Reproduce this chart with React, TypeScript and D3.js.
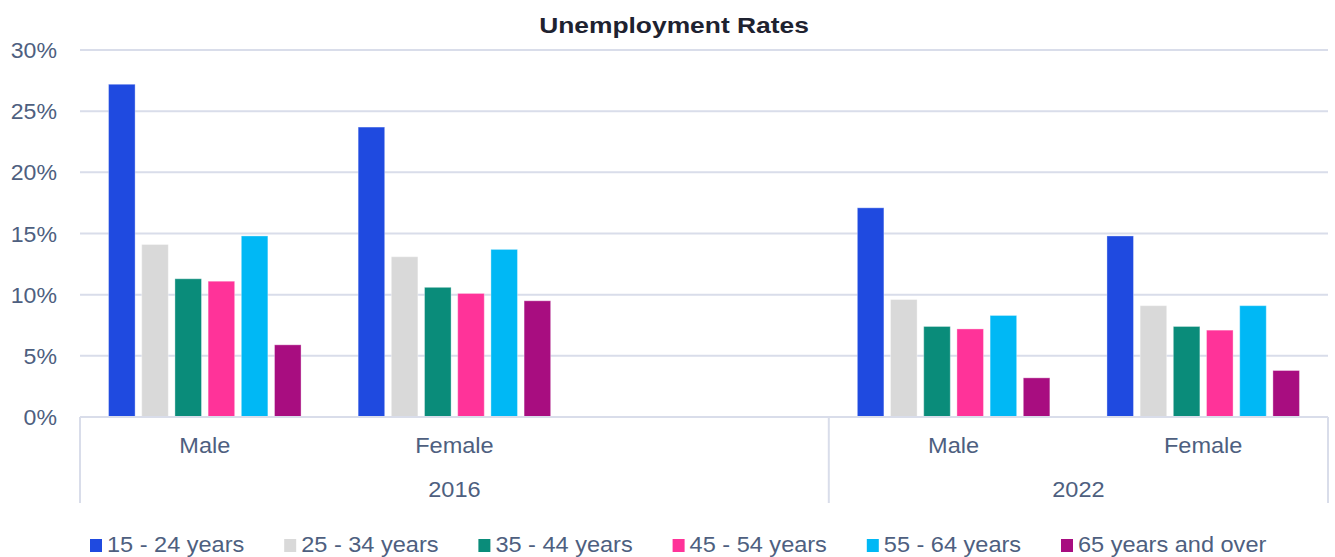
import React from "react";
import * as d3 from "d3";

const years = ["2016", "2022"];
const genders = ["Male", "Female"];
// category slots (2016 has an empty third slot)
const slots = [
  { year: "2016", gender: "Male" },
  { year: "2016", gender: "Female" },
  { year: "2016", gender: "" },
  { year: "2022", gender: "Male" },
  { year: "2022", gender: "Female" },
];
const seriesNames = [
  "15 - 24 years",
  "25 - 34 years",
  "35 - 44 years",
  "45 - 54 years",
  "55 - 64 years",
  "65 years and over",
];
const seriesColors = ["#1F4AE0", "#D9D9D9", "#0A8C7A", "#FF3399", "#00B8F5", "#A80D80"];
// values per slot, in series order (percent)
const male2016 = [27.2, 14.1, 11.3, 11.1, 14.8, 5.9];
const female2016 = [23.7, 13.1, 10.6, 10.1, 13.7, 9.5];
const empty2016: number[] = [];
const male2022 = [17.1, 9.6, 7.4, 7.2, 8.3, 3.2];
const female2022 = [14.8, 9.1, 7.4, 7.1, 9.1, 3.8];
const slotValues = [male2016, female2016, empty2016, male2022, female2022];
const yTicks = [0, 5, 10, 15, 20, 25, 30];

const W = 1335;
const H = 557;
const left = 80;
const right = 1328;
const top = 50;
const bottom = 417;
const textColor = "#4E5F80";
const gridColor = "#D9DDEA";
const FONT = "'Liberation Sans', Arial, sans-serif";

function T({ x, y, anchor = "middle", size = 22, sx = 1.07, weight = "normal", fill = textColor, children }: any) {
  return (
    <text
      transform={`translate(${x},${y}) scale(${sx},1)`}
      textAnchor={anchor}
      fontSize={size}
      fontWeight={weight}
      fill={fill}
      fontFamily={FONT}
    >
      {children}
    </text>
  );
}

export default function App() {
  const x0 = d3
    .scaleBand<number>()
    .domain(slots.map((_, i) => i))
    .range([left, right])
    .padding(0);
  const x1 = d3
    .scaleBand<string>()
    .domain(seriesNames)
    .range([0, x0.bandwidth()])
    .paddingInner(0.2)
    .paddingOuter(0.86);
  const y = d3.scaleLinear().domain([0, 30]).range([bottom, top]);

  // year groups spans
  const yearSpans = years.map((yr) => {
    const idx = slots.map((s, i) => (s.year === yr ? i : -1)).filter((i) => i >= 0);
    const x0s = x0(idx[0])!;
    const x1s = x0(idx[idx.length - 1])! + x0.bandwidth();
    return { yr, a: x0s, b: x1s };
  });
  const boundaries = [left, ...yearSpans.map((s) => s.b)];

  const legendStart = 90;
  const legendStep = 194.2;

  return (
    <svg
      width={W}
      height={H}
      style={{ position: "absolute", left: 0, top: 0, display: "block", background: "#fff" }}
    >
      {/* gridlines */}
      {yTicks.map((t) =>
        t === 0 ? null : (
          <line key={t} x1={left} x2={right} y1={y(t)} y2={y(t)} stroke={gridColor} strokeWidth={2} />
        )
      )}
      {/* y labels */}
      {yTicks.map((t) => (
        <T key={t} x={57} y={y(t) + 8} anchor="end" sx={1.05}>
          {`${t}%`}
        </T>
      ))}
      {/* bars */}
      {slotValues.map((vals, si) =>
        vals.map((v, k) => (
          <rect
            key={`${si}-${k}`}
            x={x0(si)! + x1(seriesNames[k])!}
            y={y(v)}
            width={x1.bandwidth()}
            height={y(0) - y(v)}
            fill={seriesColors[k]}
            stroke="rgba(255,255,255,0.35)"
            strokeWidth={1}
          />
        ))
      )}
      {/* baseline */}
      <line x1={left} x2={right} y1={bottom} y2={bottom} stroke={gridColor} strokeWidth={2} />
      {boundaries.map((bx, i) => (
        <line key={i} x1={bx} x2={bx} y1={bottom} y2={503} stroke={gridColor} strokeWidth={2} />
      ))}
      {/* category labels */}
      {slots.map((s, i) =>
        s.gender && genders.includes(s.gender) ? (
          <T key={i} x={x0(i)! + x0.bandwidth() / 2} y={453}>
            {s.gender}
          </T>
        ) : null
      )}
      {yearSpans.map((s) => (
        <T key={s.yr} x={(s.a + s.b) / 2} y={497}>
          {s.yr}
        </T>
      ))}
      {/* title */}
      <T x={674} y={33} size={22} sx={1.2} weight="bold" fill="#1E2230">
        Unemployment Rates
      </T>
      {/* legend */}
      {seriesNames.map((n, i) => {
        const lx = legendStart + i * legendStep;
        return (
          <g key={n}>
            <rect x={lx} y={539} width={12} height={13} fill={seriesColors[i]} />
            <T x={lx + 17} y={552} anchor="start">
              {n}
            </T>
          </g>
        );
      })}
    </svg>
  );
}
